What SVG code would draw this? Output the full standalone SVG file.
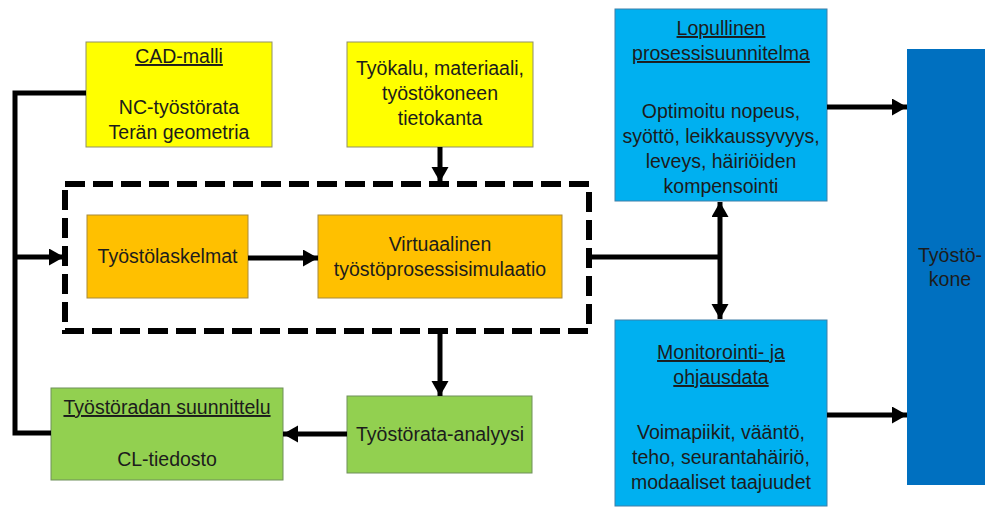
<svg xmlns="http://www.w3.org/2000/svg" width="985" height="508" viewBox="0 0 985 508">
<style>
text{font-family:"Liberation Sans",Arial,sans-serif;font-size:19.5px;fill:#1c1c1c;text-anchor:middle}
.u{text-decoration:underline}
.yel{fill:#FFFF00;stroke:#8f8f6a;stroke-width:1}
.org{fill:#FFC000;stroke:#a88a3a;stroke-width:1}
.blu{fill:#00B0F0;stroke:#3f7fa8;stroke-width:1}
.dblu{fill:#0070C0;stroke:none}
.grn{fill:#92D050;stroke:#6f8f5a;stroke-width:1}
.c{fill:none;stroke:#000;stroke-width:5}
.dash{fill:none;stroke:#000;stroke-width:6;stroke-dasharray:20 8}
</style>
<defs>
<marker id="ah" markerUnits="userSpaceOnUse" markerWidth="16" markerHeight="18" refX="15" refY="8.5" orient="auto-start-reverse">
<path d="M0,0 L15,8.5 L0,17 z" fill="#000"/>
</marker>
</defs>
<rect width="985" height="508" fill="#fff"/>
<g id="sim-group">
<rect class="dash" x="65" y="184" width="524" height="147"/>
</g>
<g id="cad">
<rect class="yel" x="86" y="42" width="186" height="105"/>
<text x="179" y="63" class="u">CAD-malli</text>
<text x="179" y="114">NC-työstörata</text>
<text x="179" y="139">Terän geometria</text>
</g>
<g id="tietokanta">
<rect class="yel" x="347" y="42" width="186" height="105"/>
<text x="440" y="75">Työkalu, materiaali,</text>
<text x="440" y="100">työstökoneen</text>
<text x="440" y="125">tietokanta</text>
</g>
<g id="laskelmat">
<rect class="org" x="87" y="215" width="161" height="83"/>
<text x="167.5" y="263">Työstölaskelmat</text>
</g>
<g id="simulaatio">
<rect class="org" x="318" y="215" width="244" height="83"/>
<text x="440" y="251">Virtuaalinen</text>
<text x="440" y="276">työstöprosessisimulaatio</text>
</g>
<g id="prosessisuunnitelma">
<rect class="blu" x="615" y="9" width="212" height="192"/>
<text x="721" y="35" class="u">Lopullinen</text>
<text x="721" y="60" class="u">prosessisuunnitelma</text>
<text x="721" y="118">Optimoitu nopeus,</text>
<text x="721" y="143">syöttö, leikkaussyvyys,</text>
<text x="721" y="168">leveys, häiriöiden</text>
<text x="721" y="193">kompensointi</text>
</g>
<g id="monitorointi">
<rect class="blu" x="615" y="320" width="212" height="186"/>
<text x="721" y="359" class="u">Monitorointi- ja</text>
<text x="721" y="384" class="u">ohjausdata</text>
<text x="721" y="439">Voimapiikit, vääntö,</text>
<text x="721" y="464">teho, seurantahäiriö,</text>
<text x="721" y="489">modaaliset taajuudet</text>
</g>
<g id="tyostokone">
<rect class="dblu" x="907" y="49" width="90" height="436"/>
<text x="950" y="262">Työstö-</text>
<text x="950" y="286">kone</text>
</g>
<g id="suunnittelu">
<rect class="grn" x="51" y="388" width="232" height="92"/>
<text x="167" y="414" class="u">Työstöradan suunnittelu</text>
<text x="167" y="466">CL-tiedosto</text>
</g>
<g id="analyysi">
<rect class="grn" x="347" y="396" width="185" height="77"/>
<text x="440" y="441">Työstörata-analyysi</text>
</g>
<g id="connectors">
<path class="c" d="M86,93 H15 V433 H51" stroke-linejoin="miter"/>
<path class="c" d="M15,257 H64" marker-end="url(#ah)"/>
<path class="c" d="M440,147 V182" marker-end="url(#ah)"/>
<path class="c" d="M248,258 H318" marker-end="url(#ah)"/>
<path class="c" d="M589,257 H720"/>
<path class="c" d="M720,202 V319" marker-start="url(#ah)" marker-end="url(#ah)"/>
<path class="c" d="M440,331 V396" marker-end="url(#ah)"/>
<path class="c" d="M347,434 H283" marker-end="url(#ah)"/>
<path class="c" d="M827,107 H907" marker-end="url(#ah)"/>
<path class="c" d="M827,415 H907" marker-end="url(#ah)"/>
</g>
</svg>
